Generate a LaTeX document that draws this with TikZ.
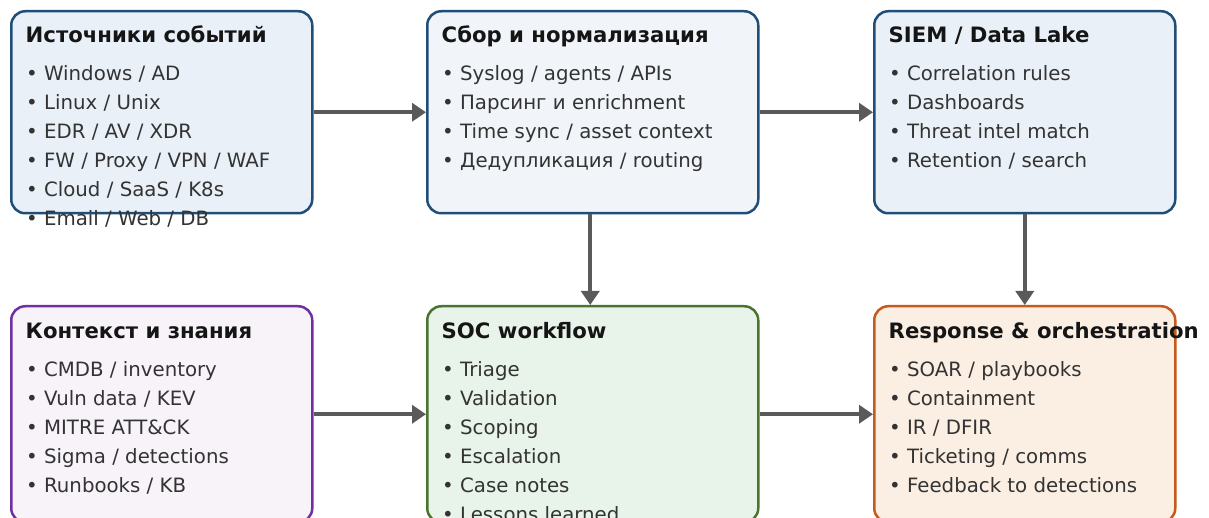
\documentclass[tikz,border=0pt]{standalone}
\usepackage{fontspec}
\setmainfont{DejaVu Sans}
\usetikzlibrary{arrows.meta}
\definecolor{blueborder}{HTML}{1F4E79}
\definecolor{bluefill}{HTML}{E9F0F8}
\definecolor{grayfill}{HTML}{F1F5F9}
\definecolor{purpleborder}{HTML}{7030A0}
\definecolor{purplefill}{HTML}{F7F3F9}
\definecolor{greenborder}{HTML}{4A7430}
\definecolor{greenfill}{HTML}{E8F3E9}
\definecolor{orangeborder}{HTML}{C55A1C}
\definecolor{orangefill}{HTML}{FBEEE3}
\definecolor{titlecol}{HTML}{151515}
\definecolor{itemcol}{HTML}{333333}
\definecolor{arrowcol}{HTML}{5A5A5A}
\tikzset{
  panelbox/.style={draw, line width=2.5pt, rounded corners=14pt, anchor=north west, inner sep=0pt},
  bluebox/.style={panelbox, draw=blueborder, fill=bluefill},
  graybox/.style={panelbox, draw=blueborder, fill=grayfill},
  purplebox/.style={panelbox, draw=purpleborder, fill=purplefill},
  greenbox/.style={panelbox, draw=greenborder, fill=greenfill},
  orangebox/.style={panelbox, draw=orangeborder, fill=orangefill},
  titletext/.style={anchor=base west, inner sep=0pt, text=titlecol, font=\fontsize{21.2}{25}\selectfont\bfseries},
  itemtext/.style={anchor=base west, inner sep=0pt, text=itemcol, font=\fontsize{19.75}{23}\selectfont},
  conn/.style={draw=arrowcol, line width=4pt, -{Triangle[length=14pt,width=18pt]}}
}
\newcommand\panelblock[8]{%
  \node[#6, minimum width=#4pt, minimum height=#5pt] (#1) at (#2,#3) {};
  \node[titletext] (#1-t) at (#2+15.5,#3+33) {#7};
  \foreach \entry [count=\i] in {#8} {
    \node[itemtext] (#1-\i) at (#2+16,#3+42+29*\i) {• \entry};
  }
}
\begin{document}
\begin{tikzpicture}[x=1pt,y=-1pt]
\useasboundingbox (0,0) rectangle (1209,518);
\clip (0,0) rectangle (1209,518);
\fill[white] (0,0) rectangle (1209,518);
\panelblock{b1}{10}{10}{301}{202}{bluebox}{Источники событий}{Windows / AD, Linux / Unix, EDR / AV / XDR, FW / Proxy / VPN / WAF, Cloud / SaaS / K8s, Email / Web / DB}
\panelblock{b2}{426}{10}{331}{202}{graybox}{Сбор и нормализация}{Syslog / agents / APIs, Парсинг и enrichment, Time sync / asset context, Дедупликация / routing}
\panelblock{b3}{873}{10}{301}{202}{bluebox}{SIEM / Data Lake}{Correlation rules, Dashboards, Threat intel match, Retention / search}
\panelblock{b4}{10}{305}{301}{216}{purplebox}{Контекст и знания}{CMDB / inventory, Vuln data / KEV, MITRE ATT\&CK, Sigma / detections, Runbooks / KB}
\panelblock{b5}{426}{305}{331}{216}{greenbox}{SOC workflow}{Triage, Validation, Scoping, Escalation, Case notes, Lessons learned}
\panelblock{b6}{873}{305}{301}{216}{orangebox}{Response \& orchestration}{SOAR / playbooks, Containment, IR / DFIR, Ticketing / comms, Feedback to detections}
\draw[conn] (b1) -- (b2);
\draw[conn] (b2) -- (b3);
\draw[conn] ([xshift=-2.5pt]b2.south) -- ([xshift=-2.5pt]b5.north);
\draw[conn] (b3) -- (b6);
\draw[conn] (b4) -- (b5);
\draw[conn] (b5) -- (b6);
\end{tikzpicture}
\end{document}
